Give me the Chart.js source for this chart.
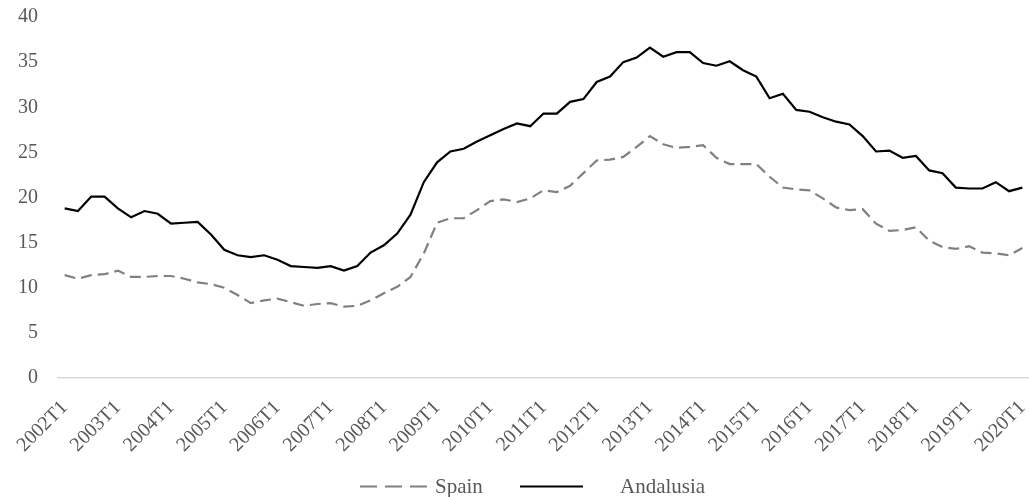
<!DOCTYPE html>
<html>
<head>
<meta charset="utf-8">
<script src="https://cdn.jsdelivr.net/npm/chart.js@4.4.0/dist/chart.umd.min.js"></script>
<style>
  html, body { margin: 0; padding: 0; background: #ffffff; }
  #wrap { width: 1029px; height: 497px; }
</style>
</head>
<body>
<div id="wrap"><canvas id="c" width="1029" height="497"></canvas></div>
<script>
// ---- data ----
const years = [2002,2003,2004,2005,2006,2007,2008,2009,2010,2011,2012,2013,2014,2015,2016,2017,2018,2019,2020];
const quarters = ["T1","T2","T3","T4"];
const categories = [];
years.forEach(y => quarters.forEach(q => { if (!(y === 2020 && q !== "T1")) categories.push(y + q); }));

const seriesNames = ["Spain", "Andalusia"];

const spain = [
  11.4, 11.0, 11.4, 11.5, 11.9, 11.2, 11.2, 11.3, 11.3, 11.0, 10.6, 10.4,
  10.0, 9.2, 8.3, 8.6, 8.8, 8.4, 8.0, 8.2, 8.3, 7.9, 8.0, 8.6,
  9.4, 10.1, 11.2, 13.8, 17.2, 17.7, 17.7, 18.6, 19.6, 19.8, 19.5, 19.9,
  20.8, 20.6, 21.3, 22.7, 24.1, 24.2, 24.5, 25.6, 26.8, 25.9, 25.5, 25.6,
  25.8, 24.4, 23.7, 23.7, 23.7, 22.3, 21.1, 20.9, 20.8, 19.9, 18.9, 18.6,
  18.7, 17.1, 16.3, 16.4, 16.7, 15.2, 14.5, 14.3, 14.6, 13.9, 13.8, 13.6,
  14.4
];

const andalusia = [
  18.8, 18.5, 20.1, 20.1, 18.8, 17.8, 18.5, 18.2, 17.1, 17.2, 17.3, 15.9,
  14.2, 13.6, 13.4, 13.6, 13.1, 12.4, 12.3, 12.2, 12.4, 11.9, 12.4, 13.9,
  14.7, 16.0, 18.1, 21.7, 23.9, 25.1, 25.4, 26.2, 26.9, 27.6, 28.2, 27.9,
  29.3, 29.3, 30.6, 30.9, 32.8, 33.4, 35.0, 35.5, 36.6, 35.6, 36.1, 36.1,
  34.9, 34.6, 35.1, 34.1, 33.4, 31.0, 31.5, 29.7, 29.5, 28.9, 28.4, 28.1,
  26.8, 25.1, 25.2, 24.4, 24.6, 23.0, 22.7, 21.1, 21.0, 21.0, 21.7, 20.7,
  21.1
];

const yTicks = [0, 5, 10, 15, 20, 25, 30, 35, 40];

// ---- custom legend (uses dataset styles) ----
const legendPlugin = {
  id: 'bottomLegend',
  afterDraw(chart) {
    const ctx = chart.ctx;
    const ds = chart.data.datasets;
    const layout = [
      { x0: 360, x1: 428, tx: 435, dash: [17, 8] },
      { x0: 520, x1: 583, tx: 620, dash: [] }
    ];
    const ly = 486.5;
    ctx.save();
    ds.forEach((d, i) => {
      const L = layout[i];
      ctx.beginPath();
      ctx.strokeStyle = d.borderColor;
      ctx.lineWidth = 2.2;
      ctx.setLineDash(L.dash);
      ctx.moveTo(L.x0, ly);
      ctx.lineTo(L.x1, ly);
      ctx.stroke();
      ctx.setLineDash([]);
      ctx.fillStyle = '#595959';
      ctx.font = '21px "Liberation Serif", "Times New Roman", serif';
      ctx.textBaseline = 'alphabetic';
      ctx.textAlign = 'left';
      ctx.fillText(d.label, L.tx, 493);
    });
    ctx.restore();
  }
};

new Chart(document.getElementById('c'), {
  type: 'line',
  data: {
    labels: categories,
    datasets: [
      {
        label: seriesNames[0],
        data: spain,
        borderColor: '#808080',
        borderWidth: 2.2,
        borderDash: [11, 6],
        pointRadius: 0,
        tension: 0,
        fill: false
      },
      {
        label: seriesNames[1],
        data: andalusia,
        borderColor: '#000000',
        borderWidth: 2.2,
        pointRadius: 0,
        tension: 0,
        fill: false
      }
    ]
  },
  options: {
    responsive: false,
    animation: false,
    layout: { padding: { top: 17, right: 0, bottom: 0, left: 0 } },
    plugins: {
      legend: { display: false },
      tooltip: { enabled: false }
    },
    scales: {
      x: {
        type: 'category',
        offset: true,
        grid: { display: false, drawTicks: false },
        border: { display: true, color: '#d9d9d9', width: 1.5 },
        ticks: {
          autoSkip: false,
          maxRotation: 45,
          minRotation: 45,
          padding: 18,
          color: '#595959',
          font: { family: '"Liberation Serif", "Times New Roman", serif', size: 20 },
          callback: function(value, index) {
            return index % 4 === 0 ? this.getLabelForValue(value) : null;
          }
        },
        afterFit(scale) {
          scale.height = 119;
          scale.paddingLeft = 0; scale.paddingRight = 0;
          scale.paddingTop = 0; scale.paddingBottom = 0;
        }
      },
      y: {
        min: 0,
        max: 40,
        grid: { display: false, drawTicks: false },
        border: { display: false },
        afterBuildTicks(scale) { scale.ticks = yTicks.map(v => ({ value: v })); },
        ticks: {
          padding: 20,
          color: '#595959',
          font: { family: '"Liberation Serif", "Times New Roman", serif', size: 20 }
        },
        afterFit(scale) {
          scale.width = 58;
          scale.paddingTop = 0; scale.paddingBottom = 0;
          scale.paddingLeft = 0; scale.paddingRight = 0;
        }
      }
    }
  },
  plugins: [legendPlugin]
});
</script>
</body>
</html>
